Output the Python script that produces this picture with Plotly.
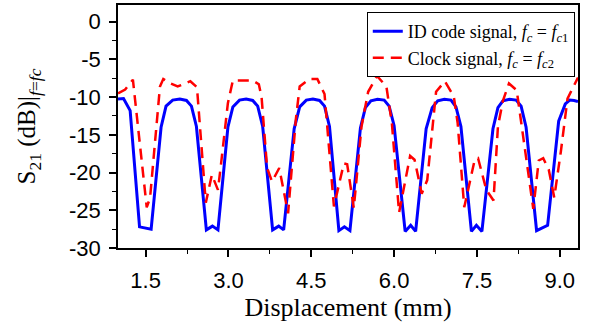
import plotly.graph_objects as go

# ID code signal (fc = fc1)
disp_id = [1.00, 1.10, 1.22, 1.39, 1.60, 1.78, 1.87, 1.99, 2.12, 2.24, 2.33, 2.42,
           2.60, 2.71, 2.81, 2.99, 3.08, 3.20, 3.32, 3.44, 3.53, 3.62,
           3.80, 3.91, 4.00, 4.19, 4.29, 4.41, 4.53, 4.65, 4.74, 4.83,
           5.00, 5.10, 5.20, 5.39, 5.48, 5.58, 5.70, 5.82, 5.91, 6.00,
           6.20, 6.30, 6.39, 6.58, 6.69, 6.79, 6.91, 7.03, 7.12, 7.21,
           7.40, 7.49, 7.59, 7.79, 7.88, 7.97, 8.09, 8.21, 8.30, 8.39,
           8.58, 8.78, 8.98, 9.10, 9.18, 9.26, 9.33]
s21_id = [-10.26, -10.2, -11.8, -27.2, -27.5, -14.0, -11.2, -10.4, -10.27, -10.45, -11.2, -13.9,
          -27.6, -27.1, -27.6, -14.0, -11.3, -10.4, -10.27, -10.45, -11.2, -13.9,
          -27.6, -27.1, -27.6, -14.2, -11.3, -10.4, -10.27, -10.45, -11.2, -13.9,
          -27.7, -27.2, -27.7, -14.1, -11.4, -10.5, -10.3, -10.4, -11.2, -13.8,
          -27.8, -27.0, -27.8, -14.2, -11.4, -10.5, -10.3, -10.4, -11.3, -13.9,
          -27.8, -27.0, -27.8, -14.2, -11.4, -10.5, -10.3, -10.4, -11.2, -14.0,
          -27.7, -27.0, -13.2, -10.9, -10.4, -10.45, -10.6]

# Clock signal (fc = fc2)
disp_clk = [1.00, 1.13, 1.27, 1.52, 1.58, 1.76, 1.82, 1.95, 2.08, 2.31, 2.43,
            2.59, 2.70, 2.81, 2.87, 2.99, 3.08, 3.20, 3.44, 3.55, 3.60, 3.70,
            3.79, 3.92, 4.08, 4.22, 4.29, 4.47, 4.61, 4.74, 4.91,
            5.09, 5.15, 5.27, 5.41, 5.53, 5.69, 5.86, 5.96, 6.09,
            6.29, 6.37, 6.50, 6.60, 6.76, 6.92, 7.08, 7.15, 7.27,
            7.46, 7.52, 7.67, 7.80, 7.88, 7.97, 8.08, 8.22, 8.52,
            8.62, 8.70, 8.80, 8.90, 9.02, 9.14, 9.33]
s21_clk = [-9.5, -9.0, -7.7, -24.6, -23.4, -8.6, -7.6, -8.2, -8.6, -7.9, -8.7,
           -24.0, -20.3, -22.3, -18.6, -10.8, -7.8, -7.8, -7.8, -8.3, -10.0, -19.4,
           -21.2, -19.4, -25.4, -13.0, -8.6, -7.6, -7.6, -9.6, -24.5,
           -18.8, -18.9, -24.7, -13.9, -9.3, -7.2, -8.6, -13.5, -25.3,
           -17.8, -18.3, -22.8, -21.0, -9.3, -7.9, -9.9, -13.4, -24.6,
           -18.3, -18.1, -22.3, -23.7, -13.9, -10.5, -8.2, -9.1, -24.8,
           -18.4, -18.1, -19.6, -23.3, -17.2, -10.2, -7.4]

x_tick_vals = [1.5, 3.0, 4.5, 6.0, 7.5, 9.0]
x_tick_text = ["1.5", "3.0", "4.5", "6.0", "7.5", "9.0"]
y_tick_vals = [0, -5, -10, -15, -20, -25, -30]
y_tick_text = ["0", "-5", "-10", "-15", "-20", "-25", "-30"]

name_id = "ID code signal, <i>f</i><sub><i>c</i></sub> = <i>f</i><sub><i>c</i>1</sub>"
name_clk = "Clock signal, <i>f</i><sub><i>c</i></sub> = <i>f</i><sub><i>c</i>2</sub>"

fig = go.Figure()
fig.add_trace(go.Scatter(x=disp_id, y=s21_id, mode="lines", name=name_id,
                         legendgroup="a",
                         line=dict(color="#0000FF", width=3)))
fig.add_trace(go.Scatter(x=disp_clk, y=s21_clk, mode="lines", name=name_clk,
                         legendgroup="b",
                         line=dict(color="#FF0000", width=2.5, dash="11px,7px")))

sans = "Liberation Sans, Arial, sans-serif"
serif = "Liberation Serif, Times New Roman, serif"

fig.update_layout(
    width=590, height=329,
    margin=dict(l=118, r=12, t=5, b=81),
    paper_bgcolor="white", plot_bgcolor="white",
    showlegend=True,
    legend=dict(x=0.993, y=0.971, xanchor="right", yanchor="top",
                bgcolor="white", bordercolor="black", borderwidth=1,
                font=dict(family=serif, size=18, color="black"),
                tracegroupgap=0),
    xaxis=dict(range=[1.0, 9.33], tickvals=x_tick_vals, ticktext=x_tick_text,
               automargin=False,
               showline=True, linecolor="black", linewidth=1.5, mirror=True,
               ticks="outside", ticklen=7, tickwidth=1.5, tickcolor="black",
               minor=dict(dtick=0.75, tick0=0.75, ticks="outside", ticklen=4,
                          tickwidth=1.2, tickcolor="black"),
               showgrid=False, zeroline=False,
               tickfont=dict(family=sans, size=22, color="black"),
               ticklabelstandoff=5,
               title=dict(text="Displacement (mm)", standoff=6,
                          font=dict(family=serif, size=26, color="black"))),
    yaxis=dict(range=[-30, 2.2], tickvals=y_tick_vals, ticktext=y_tick_text,
               automargin=False,
               showline=True, linecolor="black", linewidth=1.5, mirror=True,
               ticks="outside", ticklen=7, tickwidth=1.5, tickcolor="black",
               minor=dict(dtick=2.5, tick0=0, ticks="outside", ticklen=4,
                          tickwidth=1.2, tickcolor="black"),
               showgrid=False, zeroline=False,
               tickfont=dict(family=sans, size=22, color="black"),
               ticklabelstandoff=4,
               title=dict(text="S<sub>21</sub> (dB)|<sub><i>f</i>=<i>fc</i></sub>",
                          standoff=26,
                          font=dict(family=serif, size=25, color="black"))),
)

fig.write_html("out.html", config={"displayModeBar": False},
               post_script="document.body.style.margin='0px';")
